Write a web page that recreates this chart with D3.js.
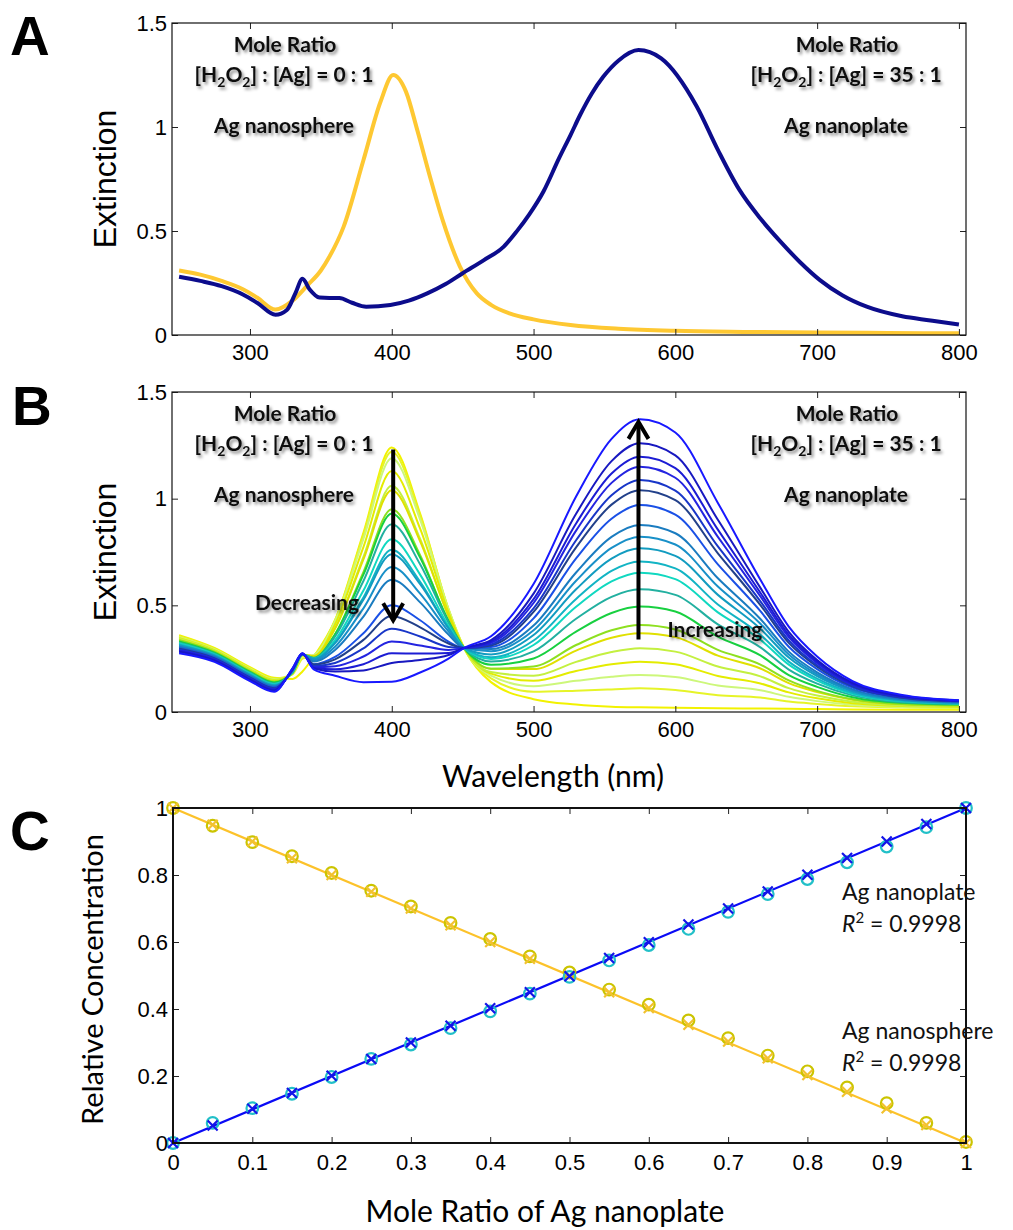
<!DOCTYPE html>
<html>
<head>
<meta charset="utf-8">
<script src="https://cdn.jsdelivr.net/npm/d3@7"></script>
<style>
  body { margin: 0; background: #fff; }
</style>
</head>
<body>
<div id="chart"></div>
<script>
// ---- Panel A: the two end-member spectra ----
const sphereWlA  = [250, 265, 280, 295, 305, 318, 330, 340, 350, 356, 366, 380, 392, 401, 410, 418, 427, 436, 448, 460, 470, 483, 500, 526, 560, 600, 650, 700, 750, 800];
const sphereExtA = [0.31, 0.29, 0.26, 0.22, 0.18, 0.122, 0.165, 0.235, 0.31, 0.376, 0.52, 0.84, 1.12, 1.25, 1.17, 0.985, 0.76, 0.55, 0.33, 0.2, 0.145, 0.104, 0.075, 0.048, 0.03, 0.02, 0.015, 0.012, 0.01, 0.008];

const plateWlA  = [250, 265, 280, 295, 305, 318, 326, 332, 337, 342, 349, 356, 363, 372, 382, 399, 412, 425, 438, 450, 465, 479, 488, 497, 507, 518, 526, 533, 541, 549, 560, 574, 590, 615, 630, 645, 660, 674, 688, 702, 718, 735, 760, 780, 800];
const plateExtA = [0.28, 0.26, 0.235, 0.195, 0.155, 0.097, 0.12, 0.2, 0.27, 0.22, 0.18, 0.178, 0.178, 0.155, 0.136, 0.144, 0.165, 0.2, 0.245, 0.297, 0.36, 0.425, 0.497, 0.58, 0.69, 0.85, 0.96, 1.06, 1.16, 1.24, 1.32, 1.37, 1.33, 1.1, 0.89, 0.7, 0.56, 0.45, 0.35, 0.264, 0.19, 0.136, 0.09, 0.07, 0.05];

// ---- Panel B: 21 spectra, mole ratio 0:1 (first) to 35:1 (last) ----
const wlB = [250, 275, 300, 317, 330, 337, 345, 360, 380, 400, 420, 440, 451, 470, 500, 530, 555, 575, 600, 630, 660, 680, 700, 725, 760, 800];
const spectraB = [
  [0.36, 0.30, 0.21, 0.16, 0.155, 0.19, 0.26, 0.43, 0.84, 1.24, 0.93, 0.48, 0.30, 0.14, 0.06, 0.035, 0.025, 0.022, 0.02, 0.018, 0.016, 0.015, 0.014, 0.012, 0.011, 0.01],
  [0.355, 0.296, 0.206, 0.156, 0.177, 0.25, 0.266, 0.43, 0.829, 1.22, 0.92, 0.484, 0.30, 0.158, 0.095, 0.10, 0.106, 0.111, 0.103, 0.079, 0.068, 0.049, 0.038, 0.027, 0.021, 0.017],
  [0.351, 0.293, 0.203, 0.153, 0.178, 0.26, 0.267, 0.426, 0.811, 1.19, 0.902, 0.482, 0.30, 0.171, 0.121, 0.146, 0.165, 0.173, 0.164, 0.124, 0.102, 0.071, 0.051, 0.034, 0.024, 0.021],
  [0.347, 0.29, 0.2, 0.15, 0.18, 0.265, 0.263, 0.41, 0.773, 1.13, 0.859, 0.468, 0.30, 0.18, 0.146, 0.192, 0.224, 0.236, 0.224, 0.169, 0.134, 0.092, 0.064, 0.041, 0.028, 0.024],
  [0.343, 0.287, 0.197, 0.147, 0.181, 0.268, 0.256, 0.392, 0.727, 1.06, 0.811, 0.449, 0.30, 0.187, 0.17, 0.235, 0.281, 0.299, 0.283, 0.213, 0.167, 0.112, 0.077, 0.048, 0.031, 0.027],
  [0.338, 0.284, 0.194, 0.144, 0.183, 0.27, 0.262, 0.391, 0.715, 1.04, 0.80, 0.452, 0.30, 0.203, 0.201, 0.288, 0.348, 0.369, 0.351, 0.264, 0.204, 0.135, 0.093, 0.057, 0.036, 0.03],
  [0.336, 0.282, 0.192, 0.142, 0.183, 0.27, 0.247, 0.364, 0.656, 0.95, 0.735, 0.423, 0.30, 0.203, 0.213, 0.314, 0.383, 0.408, 0.387, 0.291, 0.222, 0.148, 0.099, 0.06, 0.038, 0.032],
  [0.331, 0.278, 0.188, 0.138, 0.185, 0.27, 0.254, 0.364, 0.644, 0.93, 0.724, 0.428, 0.30, 0.222, 0.251, 0.377, 0.464, 0.494, 0.471, 0.353, 0.265, 0.173, 0.118, 0.069, 0.043, 0.035],
  [0.325, 0.274, 0.184, 0.134, 0.187, 0.27, 0.253, 0.354, 0.614, 0.88, 0.692, 0.42, 0.30, 0.237, 0.284, 0.437, 0.54, 0.575, 0.549, 0.411, 0.303, 0.199, 0.133, 0.078, 0.046, 0.037],
  [0.321, 0.27, 0.18, 0.13, 0.189, 0.27, 0.249, 0.337, 0.569, 0.81, 0.644, 0.404, 0.30, 0.249, 0.314, 0.493, 0.612, 0.653, 0.623, 0.467, 0.339, 0.222, 0.147, 0.085, 0.05, 0.04],
  [0.317, 0.267, 0.177, 0.127, 0.19, 0.27, 0.246, 0.325, 0.537, 0.76, 0.61, 0.393, 0.30, 0.257, 0.335, 0.53, 0.661, 0.705, 0.673, 0.504, 0.362, 0.236, 0.156, 0.09, 0.053, 0.041],
  [0.313, 0.264, 0.174, 0.124, 0.191, 0.27, 0.249, 0.323, 0.526, 0.74, 0.599, 0.393, 0.30, 0.27, 0.361, 0.575, 0.719, 0.767, 0.732, 0.549, 0.39, 0.255, 0.168, 0.097, 0.056, 0.043],
  [0.31, 0.262, 0.172, 0.122, 0.193, 0.27, 0.243, 0.306, 0.486, 0.68, 0.555, 0.378, 0.30, 0.285, 0.383, 0.615, 0.769, 0.822, 0.785, 0.588, 0.414, 0.269, 0.176, 0.101, 0.058, 0.044],
  [0.306, 0.259, 0.169, 0.119, 0.194, 0.27, 0.237, 0.291, 0.447, 0.62, 0.514, 0.363, 0.30, 0.295, 0.405, 0.654, 0.821, 0.877, 0.838, 0.627, 0.436, 0.283, 0.186, 0.106, 0.06, 0.046],
  [0.30, 0.255, 0.165, 0.115, 0.196, 0.27, 0.224, 0.258, 0.369, 0.50, 0.43, 0.33, 0.30, 0.305, 0.439, 0.72, 0.906, 0.97, 0.925, 0.692, 0.473, 0.306, 0.201, 0.114, 0.065, 0.048],
  [0.296, 0.251, 0.161, 0.111, 0.198, 0.272, 0.223, 0.247, 0.338, 0.45, 0.397, 0.321, 0.30, 0.312, 0.469, 0.772, 0.972, 1.04, 0.993, 0.744, 0.501, 0.324, 0.212, 0.12, 0.067, 0.05],
  [0.293, 0.249, 0.159, 0.109, 0.199, 0.272, 0.216, 0.23, 0.298, 0.39, 0.354, 0.305, 0.30, 0.317, 0.486, 0.805, 1.016, 1.088, 1.038, 0.776, 0.519, 0.336, 0.219, 0.123, 0.07, 0.051],
  [0.289, 0.246, 0.156, 0.106, 0.20, 0.273, 0.211, 0.215, 0.26, 0.33, 0.312, 0.291, 0.30, 0.324, 0.511, 0.85, 1.074, 1.15, 1.098, 0.821, 0.542, 0.351, 0.229, 0.128, 0.072, 0.052],
  [0.286, 0.243, 0.153, 0.103, 0.201, 0.274, 0.206, 0.20, 0.224, 0.275, 0.274, 0.277, 0.30, 0.33, 0.529, 0.884, 1.118, 1.197, 1.143, 0.855, 0.559, 0.362, 0.236, 0.132, 0.073, 0.053],
  [0.282, 0.24, 0.15, 0.10, 0.203, 0.274, 0.204, 0.19, 0.195, 0.23, 0.244, 0.267, 0.30, 0.337, 0.555, 0.929, 1.176, 1.26, 1.203, 0.901, 0.582, 0.376, 0.244, 0.137, 0.076, 0.054],
  [0.275, 0.235, 0.145, 0.095, 0.205, 0.275, 0.20, 0.17, 0.14, 0.142, 0.185, 0.25, 0.30, 0.355, 0.60, 1.01, 1.28, 1.372, 1.31, 0.98, 0.62, 0.40, 0.26, 0.145, 0.08, 0.055]
];
const spectraColors = ['#f2f200', '#e6f428', '#cdf77a', '#e4ec00', '#c4f040', '#e0e000', '#8ee020', '#18d040',
  '#22b0a0', '#10d8c0', '#12b4c4', '#129cc0', '#1890c8', '#1a7cc0', '#1a50e6', '#22408a', '#1836c8',
  '#2424e0', '#1c1cd4', '#1818c0', '#1818ff'];

// ---- Panel C: relative concentration vs mole ratio ----
const moleRatio    = [0, 0.05, 0.1, 0.15, 0.2, 0.25, 0.3, 0.35, 0.4, 0.45, 0.5, 0.55, 0.6, 0.65, 0.7, 0.75, 0.8, 0.85, 0.9, 0.95, 1];
const plateCircle  = [0, 0.06, 0.104, 0.147, 0.197, 0.251, 0.294, 0.343, 0.393, 0.446, 0.496, 0.545, 0.591, 0.639, 0.69, 0.743, 0.788, 0.838, 0.885, 0.943, 1.0];
const plateCross   = [0, 0.052, 0.102, 0.149, 0.201, 0.251, 0.3, 0.35, 0.402, 0.45, 0.498, 0.552, 0.599, 0.652, 0.7, 0.751, 0.801, 0.851, 0.9, 0.952, 1.0];
const sphereCircle = [1.0, 0.947, 0.898, 0.856, 0.806, 0.753, 0.706, 0.657, 0.609, 0.557, 0.509, 0.458, 0.413, 0.366, 0.313, 0.261, 0.214, 0.166, 0.119, 0.06, 0.003];
const sphereCross  = [1.0, 0.95, 0.9, 0.85, 0.8, 0.75, 0.7, 0.65, 0.6, 0.55, 0.5, 0.45, 0.403, 0.353, 0.303, 0.253, 0.203, 0.153, 0.104, 0.054, 0.0];
const fitX = [0, 1];
const plateFit = [0, 1];
const sphereFit = [1, 0];

// ticks
const wlTicks = [300, 400, 500, 600, 700, 800];
const extTicks = [0, 0.5, 1, 1.5];
const ratioTicks = [0, 0.1, 0.2, 0.3, 0.4, 0.5, 0.6, 0.7, 0.8, 0.9, 1];
const concTicks = [0, 0.2, 0.4, 0.6, 0.8, 1];

const HELV = '"Liberation Sans", Arial, Helvetica, sans-serif';
const CALI = 'Lato, "Open Sans", sans-serif';

const svg = d3.select('#chart').append('svg')
    .attr('width', 1013)
    .attr('height', 1230);

// soft shadow used by the bold annotations
const defs = svg.append('defs');
defs.append('filter')
    .attr('id', 'shadow')
    .attr('x', '-10%').attr('y', '-40%').attr('width', '130%').attr('height', '190%')
  .append('feDropShadow')
    .attr('dx', 2).attr('dy', 2.5).attr('stdDeviation', 1.6)
    .attr('flood-color', '#000').attr('flood-opacity', 0.45);

// frames
const fA = { left: 172, right: 966, top: 23, bottom: 335 };
const fB = { left: 172, right: 966, top: 392, bottom: 712 };
const fC = { left: 173, right: 966, top: 808, bottom: 1143 };

const xA = d3.scaleLinear().domain([245, 805]).range([fA.left, fA.right]);
const yA = d3.scaleLinear().domain([0, 1.5]).range([fA.bottom, fA.top]);
const xB = d3.scaleLinear().domain([245, 805]).range([fB.left, fB.right]);
const yB = d3.scaleLinear().domain([0, 1.5]).range([fB.bottom, fB.top]);
const xC = d3.scaleLinear().domain([0, 1]).range([fC.left, fC.right]);
const yC = d3.scaleLinear().domain([0, 1]).range([fC.bottom, fC.top]);

const plainNum = d => String(d);

function drawAxes(f, x, y, xTicks, yTicks, xPad, yPad, frameWidth) {
    const g = svg.append('g');
    const styleTicks = sel => {
        sel.attr('font-family', HELV).attr('font-size', 22);
        sel.selectAll('.tick line').attr('stroke', '#222').attr('stroke-width', 1);
        sel.selectAll('.tick text').attr('fill', '#000');
        sel.select('.domain').remove();
    };
    g.append('g')
        .attr('transform', `translate(0,${f.bottom})`)
        .call(d3.axisBottom(x).tickValues(xTicks).tickSizeInner(-6).tickSizeOuter(0).tickPadding(xPad).tickFormat(plainNum))
        .call(styleTicks);
    g.append('g')
        .attr('transform', `translate(0,${f.top})`)
        .call(d3.axisTop(x).tickValues(xTicks).tickSizeInner(-6).tickSizeOuter(0).tickFormat(''))
        .call(styleTicks);
    g.append('g')
        .attr('transform', `translate(${f.left},0)`)
        .call(d3.axisLeft(y).tickValues(yTicks).tickSizeInner(-6).tickSizeOuter(0).tickPadding(yPad).tickFormat(plainNum))
        .call(styleTicks);
    g.append('g')
        .attr('transform', `translate(${f.right},0)`)
        .call(d3.axisRight(y).tickValues(yTicks).tickSizeInner(-6).tickSizeOuter(0).tickFormat(''))
        .call(styleTicks);
    g.append('rect')
        .attr('x', f.left).attr('y', f.top)
        .attr('width', f.right - f.left).attr('height', f.bottom - f.top)
        .attr('fill', 'none').attr('stroke', '#111').attr('stroke-width', frameWidth);
}

// annotation helper: text with H2O2 subscripts
function ratioLabel(g, cx, y, ratio) {
    const t = g.append('text')
        .attr('x', cx).attr('y', y)
        .attr('text-anchor', 'middle')
        .attr('font-family', CALI).attr('font-weight', 'bold').attr('font-size', 21)
        .attr('fill', '#111')
        .attr('filter', 'url(#shadow)');
    t.append('tspan').text('[H');
    t.append('tspan').attr('dy', 5).attr('font-size', 14).text('2');
    t.append('tspan').attr('dy', -5).text('O');
    t.append('tspan').attr('dy', 5).attr('font-size', 14).text('2');
    t.append('tspan').attr('dy', -5).text(`] : [Ag] = ${ratio}`);
}

function boldNote(g, cx, y, txt) {
    g.append('text')
        .attr('x', cx).attr('y', y)
        .attr('text-anchor', 'middle')
        .attr('font-family', CALI).attr('font-weight', 'bold').attr('font-size', 21)
        .attr('fill', '#111')
        .attr('filter', 'url(#shadow)')
        .text(txt);
}

function panelNotes(f) {
    const g = svg.append('g');
    boldNote(g, 285, f.top + 29, 'Mole Ratio');
    ratioLabel(g, 284, f.top + 59, '0 : 1');
    boldNote(g, 284, f.top + 110, 'Ag nanosphere');
    boldNote(g, 847, f.top + 29, 'Mole Ratio');
    ratioLabel(g, 846, f.top + 59, '35 : 1');
    boldNote(g, 846, f.top + 110, 'Ag nanoplate');
    return g;
}

function panelLetter(x, y, s) {
    svg.append('text')
        .attr('x', x).attr('y', y)
        .attr('font-family', HELV).attr('font-weight', 'bold').attr('font-size', 55)
        .attr('fill', '#000')
        .text(s);
}

// ================= Panel A =================
const lineA = d3.line().x(d => xA(d[0])).y(d => yA(d[1])).curve(d3.curveMonotoneX);

svg.append('path')
    .datum(d3.zip(sphereWlA, sphereExtA))
    .attr('d', lineA)
    .attr('fill', 'none')
    .attr('stroke', '#fec832')
    .attr('stroke-width', 4);

svg.append('path')
    .datum(d3.zip(plateWlA, plateExtA))
    .attr('d', lineA)
    .attr('fill', 'none')
    .attr('stroke', '#0c0c8c')
    .attr('stroke-width', 4);

drawAxes(fA, xA, yA, wlTicks, extTicks, 9, 5, 1.2);
panelNotes(fA);

svg.append('text')
    .attr('transform', `translate(116,${(fA.top + fA.bottom) / 2}) rotate(-90)`)
    .attr('text-anchor', 'middle')
    .attr('font-family', HELV).attr('font-size', 32)
    .text('Extinction');

panelLetter(10, 55, 'A');

// ================= Panel B =================
const lineB = d3.line().x((d, i) => xB(wlB[i])).y(d => yB(d)).curve(d3.curveMonotoneX);

svg.append('g')
    .selectAll('path')
    .data(spectraB)
    .enter()
    .append('path')
    .attr('d', lineB)
    .attr('fill', 'none')
    .attr('stroke', (d, i) => spectraColors[i])
    .attr('stroke-width', 2);

drawAxes(fB, xB, yB, wlTicks, extTicks, 9, 5, 1.2);
const notesB = panelNotes(fB);

// arrows
function arrow(g, x, y1, y2) {
    const dir = y2 > y1 ? 1 : -1;
    g.append('line')
        .attr('x1', x).attr('x2', x).attr('y1', y1).attr('y2', y2 - dir * 2)
        .attr('stroke', '#000').attr('stroke-width', 4);
    g.append('path')
        .attr('d', `M${x - 10},${y2 - dir * 17}L${x},${y2}L${x + 10},${y2 - dir * 17}`)
        .attr('fill', 'none').attr('stroke', '#000').attr('stroke-width', 4)
        .attr('stroke-linejoin', 'miter');
}
arrow(notesB, xB(401), yB(1.23), yB(0.43));
arrow(notesB, xB(574), yB(0.34), yB(1.36));

const noteB = svg.append('g');
boldNote(noteB, 307, 610, 'Decreasing');
boldNote(noteB, 715, 637, 'Increasing');

svg.append('text')
    .attr('transform', `translate(116,${(fB.top + fB.bottom) / 2}) rotate(-90)`)
    .attr('text-anchor', 'middle')
    .attr('font-family', HELV).attr('font-size', 32)
    .text('Extinction');

svg.append('text')
    .attr('x', 553).attr('y', 787)
    .attr('text-anchor', 'middle')
    .attr('font-family', CALI).attr('font-size', 30)
    .text('Wavelength (nm)');

panelLetter(12, 425, 'B');

// ================= Panel C =================
const fitLine = d3.line().x((d, i) => xC(fitX[i])).y(d => yC(d));

svg.append('path').datum(sphereFit).attr('d', fitLine)
    .attr('fill', 'none').attr('stroke', '#fcc22a').attr('stroke-width', 2.2);
svg.append('path').datum(plateFit).attr('d', fitLine)
    .attr('fill', 'none').attr('stroke', '#0a0af5').attr('stroke-width', 2.2);

function circles(vals, color) {
    svg.append('g').selectAll('circle')
        .data(vals)
        .enter()
        .append('circle')
        .attr('cx', (d, i) => xC(moleRatio[i]))
        .attr('cy', d => yC(d))
        .attr('r', 5.8)
        .attr('fill', 'none')
        .attr('stroke', color)
        .attr('stroke-width', 2.2);
}
function crosses(vals, color) {
    svg.append('g').selectAll('path')
        .data(vals)
        .enter()
        .append('path')
        .attr('transform', (d, i) => `translate(${xC(moleRatio[i])},${yC(d)})`)
        .attr('d', 'M-5,-5L5,5M-5,5L5,-5')
        .attr('fill', 'none')
        .attr('stroke', color)
        .attr('stroke-width', 2.2);
}
circles(sphereCircle, '#cbc400');
crosses(sphereCross, '#f2c230');
circles(plateCircle, '#22c0c8');
crosses(plateCross, '#1414e8');

drawAxes(fC, xC, yC, ratioTicks, concTicks, 11, 5, 2);

const noteC = svg.append('g')
    .attr('font-family', CALI).attr('font-size', 23).attr('fill', '#111');
noteC.append('text').attr('x', 842).attr('y', 900).text('Ag nanoplate');
const r1 = noteC.append('text').attr('x', 842).attr('y', 932);
r1.append('tspan').attr('font-style', 'italic').text('R');
r1.append('tspan').attr('dy', -9).attr('font-size', 15).text('2');
r1.append('tspan').attr('dy', 9).text(' = 0.9998');
noteC.append('text').attr('x', 842).attr('y', 1039).text('Ag nanosphere');
const r2 = noteC.append('text').attr('x', 842).attr('y', 1071);
r2.append('tspan').attr('font-style', 'italic').text('R');
r2.append('tspan').attr('dy', -9).attr('font-size', 15).text('2');
r2.append('tspan').attr('dy', 9).text(' = 0.9998');

svg.append('text')
    .attr('transform', `translate(103,${(fC.top + fC.bottom) / 2 + 4}) rotate(-90)`)
    .attr('text-anchor', 'middle')
    .attr('font-family', CALI).attr('font-size', 29)
    .text('Relative Concentration');

svg.append('text')
    .attr('x', 545).attr('y', 1222)
    .attr('text-anchor', 'middle')
    .attr('font-family', CALI).attr('font-size', 30)
    .text('Mole Ratio of Ag nanoplate');

panelLetter(10, 850, 'C');
</script>
</body>
</html>
